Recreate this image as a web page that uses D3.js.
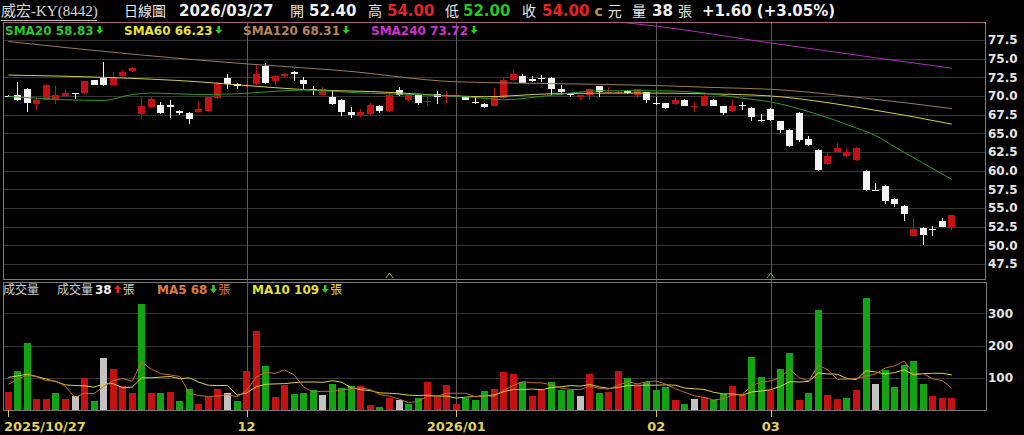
<!DOCTYPE html>
<head>
<meta charset="utf-8">
<style>
body { margin: 0; background: #000; }
svg { display: block; background: #000; }
.num { font-family: "DejaVu Sans", sans-serif; font-weight: bold; }
.cjk { font-family: "Noto Sans CJK TC", sans-serif; }
</style>
<title>威宏-KY(8442) 日線圖</title>
</head>
<body>
<svg width="1024" height="435"></svg>
<script src="https://cdn.jsdelivr.net/npm/d3@7/dist/d3.min.js"></script>
<script>
/* global d3 */
var stockName = "威宏-KY(8442)", dateLabel = "2026/03/27"

// daily candles, 2025/10/27 .. 2026/03/27 (100 trading days)
var opens = [70.0,70.2,71.0,68.9,69.5,69.5,70.0,70.4,70.4,72.2, 72.4,71.5,72.7,73.3,67.6,68.5,68.8,68.8,68.0,67.7,
  67.8,68.0,69.7,72.4,71.6,71.3,71.6,74.0,72.0,72.7, 73.2,72.1,70.95,70.2,69.9,69.5,67.8,67.3,67.6,68.7,
  68.0,70.8,69.4,70.1,69.15,70.3,69.95,69.9,69.9,69.2, 68.9,68.7,69.7,72.1,72.7,72.3,72.4,72.4,70.9,70.3,
  69.8,70.1,71.3,70.45,70.5,70.7,70.2,70.5,69.05,69.0, 68.9,69.5,68.6,68.7,69.5,68.6,68.0,68.75,68.4,66.85,
  68.3,66.6,65.5,67.7,64.2,62.8,60.9,62.5,61.9,61.4, 60.0,57.4,58.0,56.2,55.3,51.2,52.3,52.25,53.2,52.4]
var highs = [70.2,71.9,71.1,69.9,71.6,71.4,71.0,70.45,72.0,72.2, 74.5,73.2,73.5,73.9,69.9,69.9,69.2,69.5,68.1,67.8,
  69.3,69.9,71.9,73.0,71.7,71.6,74.1,74.4,72.8,73.1, 73.3,72.6,71.4,71.2,70.8,69.6,68.5,68.2,69.0,68.8,
  70.3,71.2,70.2,70.2,69.9,70.7,70.7,70.3,70.0,69.8, 69.0,71.1,72.6,73.5,72.9,72.7,72.8,72.5,71.5,70.35,
  70.2,71.0,71.4,71.2,70.7,70.8,71.0,70.6,69.8,69.1, 69.8,69.6,69.2,70.1,69.6,68.7,69.5,69.2,68.5,67.6,
  68.4,66.7,65.6,67.8,64.6,62.9,62.5,63.7,63.1,63.2, 60.1,58.4,58.1,56.3,55.4,53.6,52.4,52.6,53.6,54.0]
var lows = [69.8,69.3,67.9,68.1,69.4,68.9,70.0,69.6,70.3,71.5, 71.4,71.4,72.6,73.2,66.9,68.4,67.6,67.1,67.5,66.3,
  67.7,67.9,69.6,71.0,70.9,71.2,71.5,71.6,71.5,72.6, 72.0,70.8,70.2,70.1,68.8,67.3,67.1,67.2,67.5,67.7,
  67.9,70.0,69.3,68.8,68.6,68.9,69.0,69.8,69.4,68.9, 68.4,68.6,69.6,72.0,71.7,71.9,71.9,70.2,70.1,69.8,
  69.5,69.5,69.8,70.3,70.3,70.3,69.7,69.0,68.8,68.2, 68.8,68.6,67.9,68.6,68.6,67.5,67.9,68.1,66.7,66.5,
  66.6,65.1,63.2,63.9,63.3,60.0,60.8,62.4,61.8,61.3, 57.3,57.4,55.5,55.1,53.2,51.1,50.1,51.3,52.4,52.0]
var closes = [70.0,69.4,69.0,69.5,71.5,70.2,70.4,70.4,72.0,71.5, 71.5,72.6,73.2,73.7,68.6,69.6,67.7,68.5,67.7,66.9,
  68.2,69.8,71.6,71.6,71.3,71.5,73.0,71.8,72.7,73.0, 72.9,71.6,70.9,70.9,68.9,67.9,67.4,67.8,68.8,68.0,
  70.2,70.2,70.1,69.0,69.3,69.8,70.05,70.2,69.5,69.0, 68.5,69.8,72.1,72.9,71.8,72.0,72.35,70.9,70.5,70.1,
  70.1,70.9,70.5,70.55,70.6,70.4,70.9,69.5,68.95,68.4, 69.5,68.7,68.7,70.0,68.7,67.7,68.6,68.65,67.2,66.75,
  66.8,65.5,63.3,64.1,63.4,60.1,62.0,63.1,62.5,63.1, 57.4,57.4,55.9,55.6,54.2,52.2,51.4,52.15,52.4,54.0]
var prevClose = 69.6   // close before the first bar
var volumes = [57,121,209,34,34,52,34,43,98,29, 160,126,75,54,330,52,54,57,28,65,
  19,40,64,52,29,122,245,136,39,78, 49,54,61,47,81,67,75,75,16,9,
  38,31,20,36,88,39,77,20,37,30, 59,64,118,111,86,44,61,87,63,63,
  43,112,52,56,122,100,75,88,63,72, 31,19,33,40,30,51,75,47,165,103,
  62,127,177,31,52,311,47,34,36,61, 347,81,123,71,140,152,81,43,37,38]
var volMA5 = [80,95,109,103,91,90,73,39,52,51, 73,91,98,89,149,127,113,109,104,51,
  45,42,43,48,41,61,102,117,114,124, 109,71,56,58,58,62,66,69,63,48,
  43,34,23,27,43,43,52,52,52,41, 45,42,62,76,88,85,84,78,68,64,
  63,74,67,65,77,88,81,88,90,80, 66,55,44,39,31,35,46,49,74,88,
  90,101,127,100,90,140,124,95,96,98, 105,112,130,137,152,113,113,97,91,68]
var volMA10 = [101,106,111,104,96,88,78,76,75,71, 81,82,69,71,100,100,102,104,97,100,
  86,77,76,76,46,53,72,80,81,82, 85,87,87,86,91,86,69,63,60,53,
  52,50,46,45,46,43,43,37,40,42, 44,47,57,64,64,65,63,70,72,76,
  74,79,72,67,70,76,77,77,77,78, 77,68,66,64,55,50,50,46,56,59,
  63,73,88,87,89,115,112,111,98,94, 122,118,112,116,125,109,113,114,114,109]

// moving averages as [bar index, value]
var sma20 = [[0,69.95],[6,69.5],[10,69.4],[13,70.2],[15,70.4],[20,70.2],[24,70.3],[31,70.8],[37,70.4],[45,70.1],
  [49,69.8],[52,69.5],[57,70.1],[62,70.7],[68,70.7],[73,70.4],[77,69.7],[80,69.2],[84,67.9],[89,65.7],
  [91,64.7],[93,63.2],[96,61.0],[99,58.83]]
var sma60 = [[0,72.8],[10,72.5],[20,71.9],[24,71.5],[32,70.8],[38,70.6],[47,70.0],[50,69.9],[57,70.3],[66,70.4],
  [73,70.3],[80,70.0],[86,69.1],[90,68.3],[95,67.2],[99,66.23]]
var sma120 = [[0,77.3],[13,75.6],[25,74.3],[35,73.4],[47,71.9],[55,71.7],[68,71.4],[75,71.1],[80,70.9],[90,69.7],[99,68.31]]
var sma240 = [[58,80.6],[68,79.35],[80,77.1],[90,75.3],[99,73.72]]

var tickIdx = [0, 25, 47, 68, 80]
var tickLabels = ["2025/10/27", "12", "2026/01", "02", "03"]
var priceTicks = [47.5, 50, 52.5, 55, 57.5, 60, 62.5, 65, 67.5, 70, 72.5, 75, 77.5]
var volTicks = [100, 200, 300]
var markerIdx = [40, 80]

var svg = d3.select("svg")
var left = 3, right = 985, pTop = 22, pBot = 279, vTop = 282, vBot = 410

var x = d3.scaleLinear().domain([0, 99]).range([8.3, 951.8])
var yP = d3.scaleLinear().domain([45.49, 79.91]).range([pBot, pTop])
var yV = d3.scaleLinear().domain([0, 397.5]).range([vBot, vTop])
var idx = d3.range(closes.length)

var RED = "#c41212", WHITE = "#f4f4f4", GREEN = "#12a412", GRAY = "#c2c2c2"

svg.append("clipPath").attr("id", "pclip")
  .append("rect").attr("x", left).attr("y", pTop).attr("width", right - left).attr("height", pBot - pTop)

// grids
var grid = svg.append("g").attr("stroke", "#363636").attr("shape-rendering", "crispEdges")
grid.selectAll(".hp").data(priceTicks).enter().append("line")
  .attr("x1", left).attr("x2", right)
  .attr("y1", d => Math.round(yP(d)) + 0.5).attr("y2", d => Math.round(yP(d)) + 0.5)
grid.selectAll(".hv").data(volTicks).enter().append("line")
  .attr("x1", left).attr("x2", right)
  .attr("y1", d => Math.round(yV(d)) + 0.5).attr("y2", d => Math.round(yV(d)) + 0.5)
svg.append("g").attr("stroke", "#5c5c5c").attr("shape-rendering", "crispEdges")
  .selectAll("line").data(tickIdx.slice(1)).enter().append("line")
  .attr("x1", d => Math.round(x(d)) + 0.5).attr("x2", d => Math.round(x(d)) + 0.5)
  .attr("y1", pTop).attr("y2", vBot)

// candles
var cx = i => Math.round(x(i) - 3.5)
var ccol = i => closes[i] > opens[i] ? RED : WHITE
var cg = svg.append("g").attr("shape-rendering", "crispEdges")
cg.selectAll(".wick").data(idx).enter().append("line")
  .attr("x1", i => cx(i) + 3.5).attr("x2", i => cx(i) + 3.5)
  .attr("y1", i => yP(highs[i])).attr("y2", i => yP(lows[i]))
  .attr("stroke", ccol)
cg.selectAll(".body").data(idx).enter().append("rect")
  .attr("x", cx).attr("width", 7)
  .attr("y", i => yP(Math.max(opens[i], closes[i])))
  .attr("height", i => Math.max(1, Math.abs(yP(opens[i]) - yP(closes[i]))))
  .attr("fill", ccol)

// price moving averages
var pline = d3.line().x(d => x(d[0])).y(d => yP(d[1])).curve(d3.curveMonotoneX)
var mas = svg.append("g").attr("clip-path", "url(#pclip)").attr("fill", "none").attr("stroke-width", 1)
mas.append("path").attr("d", pline(sma240)).attr("stroke", "#b02cc0")
mas.append("path").attr("d", pline(sma120)).attr("stroke", "#9c7a5c")
mas.append("path").attr("d", pline(sma60)).attr("stroke", "#d6d040")
mas.append("path").attr("d", pline(sma20)).attr("stroke", "#2c9c2c")

// event markers
svg.append("g").attr("fill", "none")
  .selectAll("path").data(markerIdx).enter().append("path")
  .attr("d", i => "M" + (x(i) - 3.5) + "," + (pBot - 1) + "L" + x(i) + "," + (pBot - 6) + "L" + (x(i) + 3.5) + "," + (pBot - 1))
  .attr("stroke", (d, k) => k === 0 ? "#b4a85a" : "#5cb05c")

// volume bars
var vcol = i => {
  var pc = i === 0 ? prevClose : closes[i - 1]
  return closes[i] > pc ? RED : closes[i] < pc ? GREEN : GRAY
}
svg.append("g").attr("shape-rendering", "crispEdges")
  .selectAll("rect").data(idx).enter().append("rect")
  .attr("x", cx).attr("width", 7)
  .attr("y", i => yV(volumes[i])).attr("height", i => vBot - yV(volumes[i]))
  .attr("fill", vcol)
var vline = d3.line().x((d, i) => x(i)).y(d => yV(d))
svg.append("path").attr("d", vline(volMA10)).attr("fill", "none").attr("stroke", "#dcd23c")
svg.append("path").attr("d", vline(volMA5)).attr("fill", "none").attr("stroke", "#c46a34")

// panel frames
svg.append("rect").attr("x", left + 0.5).attr("y", pTop + 0.5).attr("width", right - left).attr("height", pBot - pTop)
  .attr("fill", "none").attr("stroke", "#a8647e")
svg.append("rect").attr("x", left + 0.5).attr("y", vTop + 0.5).attr("width", right - left + 1).attr("height", vBot - vTop)
  .attr("fill", "none").attr("stroke", "#7a7a7a")

// axes labels
svg.append("g").attr("class", "num").attr("font-size", 12).attr("fill", "#e6e6e6")
  .selectAll("text").data(priceTicks).enter().append("text")
  .attr("x", 988).attr("y", d => yP(d)).attr("dy", "0.36em").text(d => d.toFixed(1))
svg.append("g").attr("class", "num").attr("font-size", 12).attr("fill", "#e6e6e6")
  .selectAll("text").data(volTicks).enter().append("text")
  .attr("x", 988).attr("y", d => yV(d)).attr("dy", "0.36em").text(d => d)
svg.append("g").attr("stroke", "#d8c858")
  .selectAll("line").data(tickIdx).enter().append("line")
  .attr("x1", d => Math.round(x(d)) + 0.5).attr("x2", d => Math.round(x(d)) + 0.5)
  .attr("y1", vBot).attr("y2", vBot + 7)
svg.append("g").attr("class", "num").attr("font-size", 13).attr("fill", "#e2d25a")
  .selectAll("text").data(tickIdx).enter().append("text")
  .attr("x", d => x(d)).attr("y", 431).attr("text-anchor", "middle")
  .text((d, k) => tickLabels[k])
  .each(function() {
    var b = this.getBBox()
    if (b.x < 4) d3.select(this).attr("x", +d3.select(this).attr("x") + (4 - b.x))
  })

// text helpers
function put(px, py, str, cls, size, color) {
  var t = svg.append("text").attr("class", cls).attr("x", px).attr("y", py)
    .attr("font-size", size).attr("fill", color).text(str)
  return px + t.node().getComputedTextLength()
}
function arrow(px, py, up, color) {
  var p = up
    ? [[px + 3, py - 8], [px + 6.5, py - 4], [px + 4.3, py - 4], [px + 4.3, py], [px + 1.7, py], [px + 1.7, py - 4], [px - 0.5, py - 4]]
    : [[px + 3, py], [px + 6.5, py - 4], [px + 4.3, py - 4], [px + 4.3, py - 8], [px + 1.7, py - 8], [px + 1.7, py - 4], [px - 0.5, py - 4]]
  svg.append("path").attr("d", "M" + p.join("L") + "Z").attr("fill", color)
  return px + 7
}
var n = closes.length - 1
var fmt = d3.format(".2f")

// header
svg.append("text").attr("x", 1).attr("y", 16).attr("font-size", 15).attr("fill", "#d8d8d8")
  .attr("font-family", "'Liberation Serif', 'Noto Sans CJK TC', serif").text(stockName)
svg.append("line").attr("x1", 1).attr("x2", 97).attr("y1", 20.5).attr("y2", 20.5).attr("stroke", "#bcbcbc")
put(124, 16, "日線圖", "cjk", 14, "#e8e8e8")
put(179, 16, dateLabel, "num", 15, "#f2f2f2")
put(290, 16, "開", "cjk", 14, "#e8e8e8")
put(309, 16, fmt(opens[n]), "num", 15, "#f2f2f2")
put(368, 16, "高", "cjk", 14, "#e8e8e8")
put(387, 16, fmt(highs[n]), "num", 15, "#e42424")
put(445, 16, "低", "cjk", 14, "#e8e8e8")
put(463, 16, fmt(lows[n]), "num", 15, "#26c426")
put(522, 16, "收", "cjk", 14, "#e8e8e8")
var ex = put(542, 16, fmt(closes[n]), "num", 15, "#e42424")
ex = put(ex + 5, 16, "c", "num", 14, "#b89060")
put(ex + 5, 16, "元", "cjk", 14, "#e8e8e8")
put(632, 16, "量", "cjk", 14, "#e8e8e8")
ex = put(652, 16, String(volumes[n]), "num", 15, "#f2f2f2")
put(ex + 5, 16, "張", "cjk", 14, "#e8e8e8")
var chg = closes[n] - closes[n - 1]
put(702, 16, (chg >= 0 ? "+" : "") + fmt(chg) + " (" + (chg >= 0 ? "+" : "") + fmt(chg / closes[n - 1] * 100) + "%)", "num", 15, "#f2f2f2")

// price legend
var legend = [["SMA20", sma20, 5, "#2ec42e"], ["SMA60", sma60, 124, "#e6e436"],
  ["SMA120", sma120, 243, "#b68658"], ["SMA240", sma240, 371, "#cc34cc"]]
legend.forEach(function(l) {
  var s = l[1], last = s[s.length - 1][1], prev = s[s.length - 2][1]
  var e = put(l[2], 35, l[0] + " " + fmt(last), "num", 12, l[3])
  arrow(e + 3, 34, last > prev, last > prev ? "#e42424" : "#22d022")
})

// volume legend
put(3, 294, "成交量", "cjk", 12, "#cfcfcf")
ex = put(57, 294, "成交量 ", "cjk", 12, "#cfcfcf")
ex = put(ex + 2, 294, String(volumes[n]), "num", 12, "#f2f2f2")
ex = arrow(ex + 3, 293, volumes[n] > volumes[n - 1], volumes[n] > volumes[n - 1] ? "#e42424" : "#22d022")
put(ex + 1, 294, "張", "cjk", 12, "#cfcfcf")
ex = put(157, 294, "MA5 " + volMA5[n], "num", 12, "#e07a3c")
ex = arrow(ex + 3, 293, volMA5[n] > volMA5[n - 1], volMA5[n] > volMA5[n - 1] ? "#e42424" : "#22d022")
put(ex + 1, 294, "張", "cjk", 12, "#e07a3c")
ex = put(252, 294, "MA10 " + volMA10[n], "num", 12, "#e6e036")
ex = arrow(ex + 3, 293, volMA10[n] > volMA10[n - 1], volMA10[n] > volMA10[n - 1] ? "#e42424" : "#22d022")
put(ex + 1, 294, "張", "cjk", 12, "#e6e036")
</script>
</body>
